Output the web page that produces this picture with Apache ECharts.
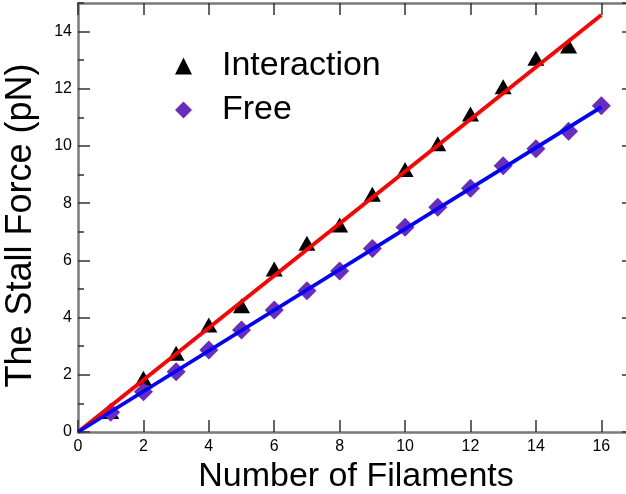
<!DOCTYPE html>
<html>
<head>
<meta charset="utf-8">
<script src="https://cdn.jsdelivr.net/npm/echarts@6/dist/echarts.min.js"></script>
<style>html,body{margin:0;padding:0;background:#fff;}#c{width:626px;height:494px;}</style>
</head>
<body>
<div id="c"></div>
<script>
var filaments = [1,2,3,4,5,6,7,8,9,10,11,12,13,14,15,16];
var interactionX = [1,2,3,4,5,6,7,8,9,10,11,12,13,14,15];
var interactionY = [0.72,1.88,2.75,3.74,4.41,5.70,6.60,7.24,8.31,9.18,10.08,11.12,12.07,13.07,13.50];
var freeY = [0.69,1.41,2.11,2.87,3.57,4.27,4.94,5.63,6.42,7.16,7.86,8.52,9.31,9.90,10.52,11.41];
var interactionFitX = [0,16];
var interactionFitY = [0,14.58];
var freeFitX = [0,16];
var freeFitY = [0,11.36];
var xTicks = [0,2,4,6,8,10,12,14,16];
var yTicks = [0,2,4,6,8,10,12,14];

function pairs(xs, ys){ return xs.map(function(x,i){ return [x, ys[i]]; }); }

var FONT = 'Liberation Sans, Arial, sans-serif';
var axisLineStyle = {color:'#7a7a7a', width:2.5};
var tickStyle = {color:'#333', width:1.5};

var chart = echarts.init(document.getElementById('c'));
chart.setOption({
  animation:false,
  backgroundColor:'#fff',
  grid:[
    {left:78, top:3, width:556, height:429, containLabel:false, outerBoundsMode:'none'},
    {left:78, top:3, width:556, height:429, containLabel:false, outerBoundsMode:'none'}
  ],
  legend:{
    data:['Interaction','Free'],
    orient:'vertical',
    left:170, top:43,
    itemWidth:17, itemHeight:17, itemGap:8,
    textStyle:{fontFamily:FONT, fontSize:34, color:'#000', lineHeight:36, padding:[0,0,0,25]}
  },
  xAxis:[
    {type:'value', gridIndex:0, position:'bottom', min:0, max:17, interval:2,
     axisLine:{show:true, onZero:false, lineStyle:axisLineStyle},
     axisTick:{show:true, inside:true, length:12, lineStyle:tickStyle},
     axisLabel:{fontFamily:FONT, fontSize:16, color:'#000', margin:7, showMaxLabel:false,
       formatter:function(v){ return xTicks.indexOf(v)>=0 ? String(v) : ''; }},
     splitLine:{show:false},
     name:'Number of Filaments', nameLocation:'middle', nameGap:22,
     nameTextStyle:{fontFamily:FONT, fontSize:34, color:'#000'}},
    {type:'value', gridIndex:0, position:'top', min:0, max:17, interval:2,
     axisLine:{show:true, onZero:false, lineStyle:axisLineStyle},
     axisTick:{show:true, inside:true, length:12, lineStyle:tickStyle},
     axisLabel:{show:false}, splitLine:{show:false}},
    {type:'value', gridIndex:1, min:0, max:17, show:false}
  ],
  yAxis:[
    {type:'value', gridIndex:0, position:'left', min:0, max:15, interval:2,
     axisLine:{show:true, onZero:false, lineStyle:axisLineStyle},
     axisTick:{show:true, inside:true, length:12, lineStyle:tickStyle},
     axisLabel:{fontFamily:FONT, fontSize:16, color:'#000', margin:6, showMaxLabel:false,
       formatter:function(v){ return yTicks.indexOf(v)>=0 ? String(v) : ''; }},
     splitLine:{show:false},
     name:'The Stall Force (pN)', nameLocation:'middle', nameGap:39,
     nameTextStyle:{fontFamily:FONT, fontSize:36, color:'#000', padding:[0,16,0,0]}},
    {type:'value', gridIndex:0, position:'right', min:0, max:15, interval:2,
     axisLine:{show:true, onZero:false, lineStyle:axisLineStyle},
     axisTick:{show:true, inside:true, length:12, lineStyle:tickStyle},
     axisLabel:{show:false}, splitLine:{show:false}},
    {type:'value', gridIndex:1, position:'left', min:0, max:15, interval:1,
     axisLine:{show:false},
     axisTick:{show:true, inside:true, length:6, lineStyle:tickStyle},
     axisLabel:{show:false}, splitLine:{show:false}}
  ],
  series:[
    {name:'Interaction', type:'scatter', xAxisIndex:0, yAxisIndex:0,
     symbol:'triangle', symbolSize:[17,15],
     itemStyle:{color:'#000', opacity:1}, z:2,
     data:pairs(interactionX, interactionY)},
    {name:'Free', type:'scatter', xAxisIndex:0, yAxisIndex:0,
     symbol:'diamond', symbolSize:[19,19],
     itemStyle:{color:'#6a2cbe', opacity:1}, z:2,
     data:pairs(filaments, freeY)},
    {name:'Interaction fit', type:'line', xAxisIndex:0, yAxisIndex:0,
     showSymbol:false, symbol:'none', lineStyle:{color:'#ff0000', width:3.8}, z:3,
     data:pairs(interactionFitX, interactionFitY)},
    {name:'Free fit', type:'line', xAxisIndex:0, yAxisIndex:0,
     showSymbol:false, symbol:'none', lineStyle:{color:'#0000ff', width:3.8}, z:3,
     data:pairs(freeFitX, freeFitY)}
  ]
});
</script>
</body>
</html>
